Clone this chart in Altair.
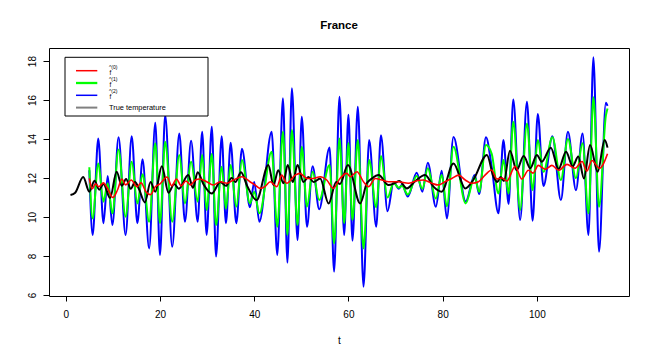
import altair as alt
import pandas as pd

# ---- data ----
# time points of the oscillating estimates (f^(1) green, f^(2) blue)
osc_t = [5.0, 5.7, 6.9, 8.0, 8.9, 9.9, 11.2, 12.7, 14.0, 15.2, 16.3, 17.7, 19.0, 20.0, 21.1, 22.6,
         24.1, 25.3, 26.6, 28.0, 28.95, 29.9, 31.0, 31.9, 33.1, 34.0, 35.0, 36.2, 37.4, 39.1, 40.0,
         41.1, 43.7, 44.9, 46.1, 47.05, 48.0, 49.2, 50.1, 51.2, 52.4, 53.8, 56.0, 56.96, 58.1, 59.1,
         60.0, 60.86, 62.0, 63.2, 64.4, 65.9, 66.9, 68.3, 69.6, 70.7, 71.4, 72.6, 74.5, 75.7, 76.85,
         78.55, 79.8, 80.9, 82.3, 84.9, 86.8, 87.75, 89.2, 90.4, 91.85, 92.9, 94.0, 95.0, 96.45,
         97.9, 99.1, 100.2, 101.4, 103.3, 105.1, 106.6, 108.3, 109.7, 110.96, 112.0, 113.2, 114.65,
         115.0]
f2_vals = [12.4, 9.08, 14.03, 9.68, 12.1, 9.59, 14.09, 9.08, 14.15, 9.68, 12.96, 8.39, 14.84, 8.05,
           15.23, 8.48, 14.29, 9.76, 13.91, 9.76, 14.38, 9.08, 14.63, 7.97, 14.15, 9.68, 13.81, 9.68,
           13.5, 10.5, 11.8, 9.76, 14.38, 8.05, 16.09, 7.66, 16.6, 8.82, 15.15, 9.5, 12.6, 10.4,
           13.57, 7.2, 16.17, 9.08, 15.25, 8.79, 15.66, 6.43, 13.95, 9.5, 14.2, 10.3, 11.8, 11.45,
           11.65, 11.05, 12.27, 11.3, 12.79, 10.53, 12.37, 9.93, 14.1, 10.8, 12.15, 11.18, 14.09,
           12.6, 10.19, 13.95, 10.67, 16.03, 9.85, 15.91, 9.81, 15.28, 11.59, 14.15, 10.87, 14.38,
           11.38, 14.29, 9.08, 18.19, 8.22, 15.86, 15.7]
f1_vals = [12.55, 9.93, 12.75, 10.79, 11.73, 10.19, 13.47, 10.02, 12.84, 10.7, 12.2, 9.76, 13.78,
           9.68, 13.86, 9.76, 13.18, 10.7, 12.84, 10.79, 13.2, 10.36, 13.23, 9.59, 12.58, 10.44,
           12.67, 10.53, 12.92, 10.7, 11.3, 10.19, 13.35, 9.5, 14.38, 9.08, 14.46, 9.59, 13.6,
           10.53, 12.32, 10.87, 12.67, 8.65, 14.03, 9.68, 13.8, 9.85, 13.95, 8.39, 12.92, 10.5,
           13.13, 11.0, 11.75, 11.5, 11.6, 11.15, 12.1, 11.45, 12.5, 10.95, 12.15, 10.55, 13.6,
           10.7, 12.07, 11.3, 13.69, 13.26, 11.21, 12.92, 11.21, 14.89, 10.36, 14.8, 11.38, 13.95,
           12.32, 14.09, 11.9, 14.0, 12.0, 13.78, 10.19, 16.14, 10.53, 15.2, 15.57]

f0_t = [5.0, 5.6, 6.3, 7.0, 8.0, 8.8, 10.0, 11.0, 11.9, 12.7, 13.9, 15.1, 16.0, 17.0, 18.0, 19.0,
        20.0, 21.5, 22.5, 23.5, 24.5, 25.5, 26.5, 27.5, 28.5, 29.9, 31.3, 32.8, 34.2, 35.6, 37.4,
        39.1, 40.2, 41.2, 42.3, 43.4, 44.8, 45.85, 46.9, 48.7, 49.7, 51.2, 52.6, 54.0, 55.4, 56.8,
        58.2, 59.65, 60.4, 61.8, 63.2, 64.25, 65.7, 67.1, 68.5, 70.6, 72.7, 74.5, 75.9, 77.7, 79.1,
        80.5, 81.95, 83.4, 84.8, 86.2, 87.6, 89.0, 90.4, 91.5, 92.6, 93.6, 95.4, 96.8, 98.2, 99.2,
        100.3, 101.8, 103.2, 104.6, 106.4, 108.1, 109.6, 110.6, 111.7, 113.3, 115.0]
f0_vals = [11.98, 11.45, 11.7, 11.55, 11.75, 11.5, 11.0, 11.4, 11.95, 11.65, 11.9, 11.55, 11.75,
           11.3, 11.15, 11.55, 11.7, 12.05, 11.6, 11.95, 11.6, 11.85, 11.65, 11.9, 11.95, 11.81,
           11.64, 11.81, 11.73, 11.9, 12.07, 11.81, 11.64, 11.47, 11.56, 11.81, 11.56, 12.15, 11.73,
           12.15, 12.24, 11.98, 11.98, 12.07, 11.9, 11.47, 11.98, 12.24, 12.07, 12.32, 11.81, 11.56,
           11.98, 11.9, 11.81, 11.81, 11.73, 11.86, 11.9, 11.73, 11.64, 11.81, 11.98, 12.15, 11.9,
           11.73, 11.81, 12.15, 12.41, 11.95, 12.0, 11.85, 12.6, 11.95, 12.4, 12.25, 12.65, 12.45,
           12.65, 12.4, 12.7, 12.5, 12.85, 12.35, 12.9, 12.5, 13.25]

true_t = [1.0, 2.0, 3.7, 5.0, 6.1, 7.1, 8.0, 9.4, 10.8, 11.9, 12.8, 13.8, 14.7, 15.6, 16.8, 18.0,
          19.0, 20.4, 21.8, 23.0, 24.0, 26.0, 27.0, 28.0, 29.2, 31.0, 32.8, 34.0, 35.2, 36.0, 37.2,
          38.5, 40.5, 43.0, 44.1, 45.1, 46.2, 47.1, 48.2, 49.2, 50.45, 51.5, 52.6, 54.0, 55.8, 57.4,
          58.2, 59.9, 62.5, 63.9, 65.0, 66.4, 68.5, 69.9, 70.8, 72.4, 74.0, 76.3, 78.05, 79.8, 82.3,
          84.8, 86.5, 89.4, 90.8, 91.6, 92.3, 93.0, 94.3, 95.7, 97.2, 98.6, 100.0, 101.05, 102.96,
          104.6, 106.2, 107.6, 108.8, 110.0, 111.3, 112.9, 114.4, 115.0]
true_vals = [11.13, 11.25, 12.05, 11.3, 11.86, 11.4, 11.7, 10.98, 12.32, 11.6, 11.95, 11.45, 11.8,
             11.4, 10.75, 11.8, 11.3, 12.6, 11.25, 11.7, 11.45, 12.15, 11.5, 12.3, 11.7, 11.21,
             11.8, 11.6, 12.0, 11.8, 12.3, 11.6, 10.87, 12.67, 11.64, 12.4, 11.73, 12.67, 11.8,
             12.67, 11.8, 12.05, 11.8, 11.98, 10.7, 11.8, 11.7, 12.67, 10.7, 11.73, 11.98, 12.15,
             11.64, 11.75, 11.85, 11.47, 11.8, 12.15, 11.56, 11.3, 12.75, 11.47, 11.9, 13.18, 12.07,
             11.8, 12.05, 11.85, 13.4, 12.4, 13.13, 12.5, 13.18, 12.84, 13.56, 12.46, 13.35, 12.6,
             13.1, 11.98, 13.69, 12.32, 13.95, 13.56]

series_keys = ["f0", "f1", "f2", "True temperature"]
series_colors = ["#FF0000", "#00FF00", "#0000FF", "#000000"]
legend_hats = ["^(0)", "^(1)", "^(2)", ""]
legend_bases = ["f", "f", "f", "True temperature"]
legend_colors = ["#FF0000", "#00FF00", "#0000FF", "#808080"]
x_ticks = [0, 20, 40, 60, 80, 100]
y_ticks = [6, 8, 10, 12, 14, 16, 18]

FONT = "Liberation Sans"


def frame(name, ts, vs):
    return pd.DataFrame({"series": name, "t": ts, "v": vs})


df = pd.concat([
    frame("f2", osc_t, f2_vals),
    frame("f1", osc_t, f1_vals),
    frame("f0", f0_t, f0_vals),
    frame("True temperature", true_t, true_vals),
], ignore_index=True)

x_enc = alt.X("t:Q",
              scale=alt.Scale(domain=[-3.56, 119.56], nice=False, zero=False),
              axis=alt.Axis(values=x_ticks, title="t", tickSize=5, labelPadding=8,
                            titlePadding=16, format="d"))
y_enc = alt.Y("v:Q",
              scale=alt.Scale(domain=[5.95, 18.67], nice=False, zero=False),
              axis=alt.Axis(values=y_ticks, title=None, tickSize=6, labelPadding=6,
                            labelAngle=270, labelAlign="center", labelBaseline="bottom",
                            format="d"))
color_enc = alt.Color("series:N",
                      scale=alt.Scale(domain=series_keys, range=series_colors),
                      legend=None)

base = alt.Chart(df).encode(x=x_enc, y=y_enc, color=color_enc)
layers = []
for key, width in [("f2", 2.0), ("f1", 2.0), ("True temperature", 2.0), ("f0", 1.6)]:
    layers.append(
        base.transform_filter(alt.datum.series == key)
        .mark_line(interpolate="monotone", strokeWidth=width)
    )

# ---- legend box in the upper-left corner (pixel layout inside the plot) ----
leg_df = pd.DataFrame({"hat": legend_hats, "base": legend_bases, "color": legend_colors})
one = alt.Chart(leg_df.head(1))
layers.append(one.mark_rect(fill="white", stroke="black", strokeWidth=1).encode(
    x=alt.value(16), x2=alt.value(159), y=alt.value(9.3), y2=alt.value(68)))
row0, row_gap = 22.7, 12.3
line_widths = [1.5, 2.3, 1.5, 2.0]
for i in range(len(legend_bases)):
    yc = row0 + i * row_gap
    row = alt.Chart(leg_df.iloc[[i]])
    layers.append(row.mark_rule(strokeWidth=line_widths[i]).encode(
        x=alt.value(27), x2=alt.value(48.3), y=alt.value(yc),
        color=alt.Color("color:N", scale=None)))
    if legend_hats[i]:
        layers.append(row.mark_text(align="left", baseline="middle", font=FONT, fontSize=5,
                                    color="black").encode(
            x=alt.value(60), y=alt.value(yc - 4.0), text="hat:N"))
        layers.append(row.mark_text(align="left", baseline="middle", font=FONT, fontSize=6.5,
                                    color="black").encode(
            x=alt.value(60.5), y=alt.value(yc + 1.8), text="base:N"))
    else:
        layers.append(row.mark_text(align="left", baseline="middle", font=FONT, fontSize=7.4,
                                    color="black").encode(
            x=alt.value(60), y=alt.value(yc), text="base:N"))

chart = alt.layer(*layers).properties(
    width=580, height=248,
    title=alt.TitleParams("France", fontSize=11.5, fontWeight="bold", font=FONT,
                          color="black", anchor="middle", offset=17),
    padding={"left": 41, "top": 40, "right": 17, "bottom": 61},
    autosize=alt.AutoSizeParams(type="none"),
).resolve_scale(
    color="independent"
).configure_view(
    stroke="black", strokeWidth=1
).configure_axis(
    domain=False, grid=False, ticks=True, tickColor="black", tickWidth=1,
    labelFont=FONT, labelFontSize=10, labelColor="black",
    titleFont=FONT, titleFontSize=10, titleFontWeight="normal", titleColor="black",
)

chart.save("out.html", embed_options={"renderer": "svg", "actions": False})
